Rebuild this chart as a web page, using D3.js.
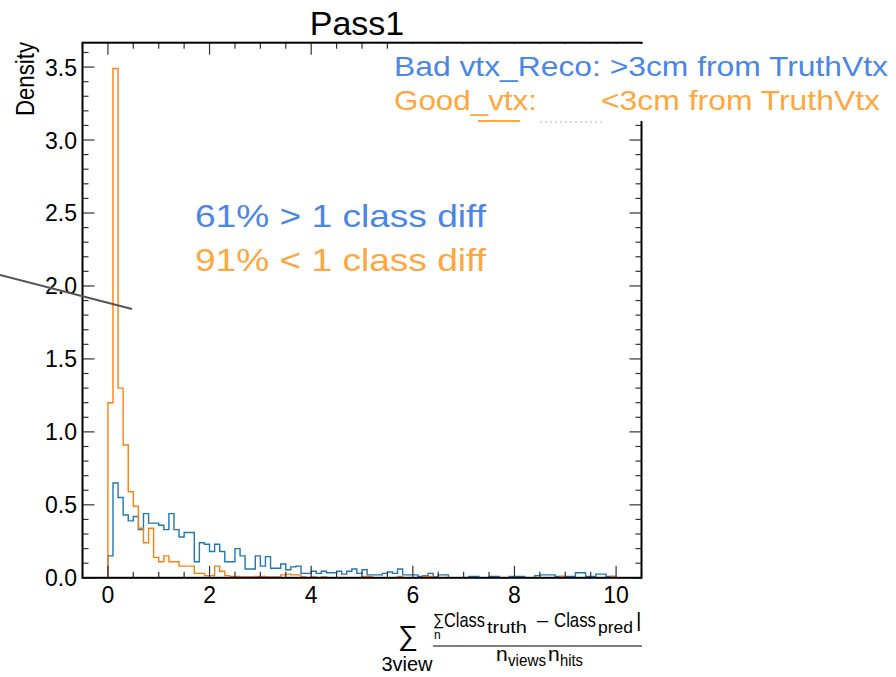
<!DOCTYPE html>
<html>
<head>
<meta charset="utf-8">
<script src="https://cdn.jsdelivr.net/npm/d3@7"></script>
<style>
  body { margin: 0; background: #fff; }
  svg { display: block; font-family: "Liberation Sans", Arial, sans-serif; }
</style>
</head>
<body>
<svg id="chart" width="896" height="677"></svg>
<script>
// histogram bins: 100 bins of width 0.1 starting at 0
var binStart = 0;
var binWidth = 0.1;

// Bad vtx (blue) density per bin
var badVtx = [
  0.15, 0.65, 0.55, 0.43, 0.39, 0.42, 0.33, 0.44, 0.375, 0.375,
  0.36, 0.33, 0.44, 0.33, 0.28, 0.31, 0.31, 0.11, 0.24, 0.23,
  0.18, 0.23, 0.18, 0.11, 0.11, 0.20, 0.15, 0.06, 0.06, 0.15,
  0.08, 0.145, 0.065, 0.065, 0.095, 0.055, 0.075, 0.08, 0.03, 0.03,
  0.045, 0.03, 0.045, 0.035, 0.035, 0.045, 0.025, 0.045, 0.06, 0.03,
  0.055, 0.02, 0.02, 0.02, 0.03, 0.04, 0.03, 0.06, 0.02, 0.02,
  0.02, 0.01, 0.015, 0.03, 0.005, 0.02, 0.02, 0, 0, 0,
  0, 0.01, 0.01, 0, 0, 0.01, 0.01, 0, 0, 0.01,
  0.01, 0.01, 0, 0, 0.015, 0.02, 0.02, 0.02, 0.01, 0.01,
  0.01, 0.01, 0.035, 0.035, 0.01, 0.01, 0.025, 0.025, 0.01, 0.01
];

// Good vtx (orange) density per bin
var goodVtx = [
  1.20, 3.49, 1.30, 0.91, 0.59, 0.49, 0.34, 0.24, 0.34, 0.14,
  0.11, 0.15, 0.11, 0.11, 0.08, 0.08, 0.08, 0.03, 0.03, 0.015,
  0.015, 0.08, 0.045, 0.015, 0.01, 0.01, 0.005, 0.005, 0.005, 0.01,
  0.01, 0.005, 0.005, 0.005, 0.02, 0.025, 0.02, 0.02, 0.005, 0,
  0.005, 0, 0.005, 0, 0, 0, 0, 0, 0, 0,
  0.01, 0.01, 0, 0, 0, 0, 0, 0.01, 0, 0,
  0, 0, 0.01, 0.01, 0, 0, 0, 0, 0, 0,
  0, 0, 0, 0, 0, 0, 0, 0, 0, 0,
  0, 0, 0, 0, 0, 0, 0, 0, 0, 0.01,
  0, 0, 0, 0, 0, 0, 0, 0, 0, 0.01
];

var xMajorTicks = [0, 2, 4, 6, 8, 10];
var xMinorTicks = [-0.5, 0.5, 1, 1.5, 2.5, 3, 3.5, 4.5, 5, 5.5, 6.5, 7, 7.5, 8.5, 9, 9.5, 10.5];
var yMajorTicks = [0, 0.5, 1.0, 1.5, 2.0, 2.5, 3.0, 3.5];
var yMinorStep = 0.1;

(function() {
  var svg = d3.select("#chart");

  var pLeft = 82.5, pRight = 641.5, pTop = 42.7, pBottom = 577.8;

  var x = d3.scaleLinear().domain([-0.5, 10.5]).range([pLeft, pRight]);
  var y = d3.scaleLinear().domain([0, 3.667]).range([pBottom, pTop]);

  // title
  svg.append("text")
      .attr("x", 357)
      .attr("y", 35)
      .attr("text-anchor", "middle")
      .attr("font-size", 34)
      .text("Pass1");

  // y label
  svg.append("text")
      .attr("transform", "translate(34,42) rotate(-90)")
      .attr("text-anchor", "end")
      .attr("font-size", 26)
      .attr("textLength", 74).attr("lengthAdjust", "spacingAndGlyphs")
      .text("Density");

  svg.append("clipPath").attr("id", "plotclip")
    .append("rect")
      .attr("x", pLeft).attr("y", pTop)
      .attr("width", pRight - pLeft).attr("height", pBottom - pTop);

  // step histograms
  function stepPoints(vals) {
    var pts = [[binStart, 0]];
    vals.forEach(function(v, i) { pts.push([binStart + i * binWidth, v]); });
    pts.push([binStart + vals.length * binWidth, 0]);
    return pts;
  }

  var line = d3.line()
      .x(function(d) { return x(d[0]); })
      .y(function(d) { return y(d[1]); })
      .curve(d3.curveStepAfter);

  var plot = svg.append("g").attr("clip-path", "url(#plotclip)");

  plot.append("path")
      .attr("d", line(stepPoints(badVtx)))
      .attr("fill", "none")
      .attr("stroke", "#1f77b4")
      .attr("stroke-width", 1.4);

  plot.append("path")
      .attr("d", line(stepPoints(goodVtx)))
      .attr("fill", "none")
      .attr("stroke", "#ff7f0e")
      .attr("stroke-width", 1.4);

  // ticks (inward on all four sides)
  var ticks = svg.append("g").attr("stroke", "#333").attr("stroke-width", 1.2);

  xMajorTicks.forEach(function(t) {
    ticks.append("line").attr("x1", x(t)).attr("x2", x(t)).attr("y1", pBottom).attr("y2", pBottom - 12);
    ticks.append("line").attr("x1", x(t)).attr("x2", x(t)).attr("y1", pTop).attr("y2", pTop + 12);
  });
  xMinorTicks.forEach(function(t) {
    ticks.append("line").attr("x1", x(t)).attr("x2", x(t)).attr("y1", pBottom).attr("y2", pBottom - 6);
    ticks.append("line").attr("x1", x(t)).attr("x2", x(t)).attr("y1", pTop).attr("y2", pTop + 6);
  });

  d3.range(0, 37).forEach(function(i) {
    var v = i * yMinorStep;
    var len = (i % 5 === 0) ? 12 : 6;
    ticks.append("line").attr("x1", pLeft).attr("x2", pLeft + len).attr("y1", y(v)).attr("y2", y(v));
    ticks.append("line").attr("x1", pRight).attr("x2", pRight - len).attr("y1", y(v)).attr("y2", y(v));
  });

  // spines
  svg.append("rect")
      .attr("x", pLeft).attr("y", pTop)
      .attr("width", pRight - pLeft).attr("height", pBottom - pTop)
      .attr("fill", "none")
      .attr("stroke", "#000")
      .attr("stroke-width", 2);

  // tick labels
  svg.append("g").selectAll("text")
      .data(xMajorTicks)
    .enter().append("text")
      .attr("x", function(d) { return x(d); })
      .attr("y", 603)
      .attr("text-anchor", "middle")
      .attr("font-size", 23)
      .text(function(d) { return d; });

  svg.append("g").selectAll("text")
      .data(yMajorTicks)
    .enter().append("text")
      .attr("x", 77)
      .attr("y", function(d) { return y(d) + 8.5; })
      .attr("text-anchor", "end")
      .attr("font-size", 23)
      .text(function(d) { return d.toFixed(1); });

  // x label: sum over views of the mean class difference
  var xl = svg.append("g").attr("fill", "#000");
  xl.append("text").attr("x", 408).attr("y", 645).attr("text-anchor", "middle").attr("font-size", 28).text("\u2211");
  xl.append("text").attr("x", 407).attr("y", 671).attr("text-anchor", "middle").attr("font-size", 20).text("3view");
  xl.append("text").attr("x", 433).attr("y", 625).attr("font-size", 16).text("\u2211");
  xl.append("text").attr("x", 434).attr("y", 639).attr("font-size", 12).text("n");
  xl.append("text").attr("x", 444).attr("y", 627).attr("font-size", 21).attr("textLength", 41).attr("lengthAdjust", "spacingAndGlyphs").text("Class");
  xl.append("text").attr("x", 487).attr("y", 633).attr("font-size", 17).attr("textLength", 40).attr("lengthAdjust", "spacingAndGlyphs").text("truth");
  xl.append("text").attr("x", 537).attr("y", 627).attr("font-size", 20).text("\u2013");
  xl.append("text").attr("x", 554).attr("y", 627).attr("font-size", 21).attr("textLength", 42).attr("lengthAdjust", "spacingAndGlyphs").text("Class");
  xl.append("text").attr("x", 598).attr("y", 633).attr("font-size", 17).attr("textLength", 35).attr("lengthAdjust", "spacingAndGlyphs").text("pred");
  xl.append("text").attr("x", 636).attr("y", 627).attr("font-size", 21).text("|");
  xl.append("line").attr("x1", 433).attr("x2", 642).attr("y1", 646).attr("y2", 646).attr("stroke", "#000").attr("stroke-width", 1.2);
  xl.append("text").attr("x", 496).attr("y", 661).attr("font-size", 21).text("n");
  xl.append("text").attr("x", 508).attr("y", 666).attr("font-size", 16).attr("textLength", 38).attr("lengthAdjust", "spacingAndGlyphs").text("views");
  xl.append("text").attr("x", 548).attr("y", 661).attr("font-size", 21).text("n");
  xl.append("text").attr("x", 560).attr("y", 666).attr("font-size", 16).attr("textLength", 23).attr("lengthAdjust", "spacingAndGlyphs").text("hits");

  // pointer line
  svg.append("line")
      .attr("x1", 0).attr("y1", 275)
      .attr("x2", 132).attr("y2", 309)
      .attr("stroke", "#555")
      .attr("stroke-width", 2);

  // annotations
  svg.append("text")
      .attr("x", 195).attr("y", 227)
      .attr("font-size", 32)
      .attr("fill", "#4a86e8")
      .attr("textLength", 291).attr("lengthAdjust", "spacingAndGlyphs")
      .text("61% > 1 class diff");
  svg.append("text")
      .attr("x", 195).attr("y", 271)
      .attr("font-size", 32)
      .attr("fill", "#ffa63d")
      .attr("textLength", 291).attr("lengthAdjust", "spacingAndGlyphs")
      .text("91% < 1 class diff");

  // legend overlay box
  svg.append("rect")
      .attr("x", 390).attr("y", 44)
      .attr("width", 506).attr("height", 77)
      .attr("fill", "#fff");

  svg.append("line").attr("x1", 478).attr("x2", 520).attr("y1", 121).attr("y2", 121)
      .attr("stroke", "#ffa63d").attr("stroke-width", 2);
  svg.append("line").attr("x1", 540).attr("x2", 605).attr("y1", 122).attr("y2", 122)
      .attr("stroke", "#ccc").attr("stroke-width", 1.5).attr("stroke-dasharray", "2,3");

  svg.append("text")
      .attr("x", 394).attr("y", 76)
      .attr("font-size", 28)
      .attr("fill", "#4a86e8")
      .attr("textLength", 494).attr("lengthAdjust", "spacingAndGlyphs")
      .text("Bad vtx_Reco: >3cm from TruthVtx");
  svg.append("text")
      .attr("x", 394).attr("y", 110)
      .attr("font-size", 28)
      .attr("fill", "#ffa63d")
      .attr("textLength", 143).attr("lengthAdjust", "spacingAndGlyphs")
      .text("Good_vtx:");
  svg.append("text")
      .attr("x", 601).attr("y", 110)
      .attr("font-size", 28)
      .attr("fill", "#ffa63d")
      .attr("textLength", 279).attr("lengthAdjust", "spacingAndGlyphs")
      .text("<3cm from TruthVtx");
})();
</script>
</body>
</html>
